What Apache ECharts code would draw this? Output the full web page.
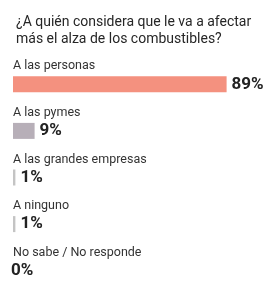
<!DOCTYPE html>
<html>
<head>
<meta charset="utf-8">
<script src="https://cdn.jsdelivr.net/npm/echarts@6/dist/echarts.min.js"></script>
<style>
  html, body { margin: 0; padding: 0; background: #fff; }
  #chart { width: 265px; height: 282px; }
</style>
</head>
<body>
<div id="chart"></div>
<script>
  var titleText = '¿A quién considera que le va a afectar\nmás el alza de los combustibles?';
  var categories = ['A las personas', 'A las pymes', 'A las grandes empresas', 'A ninguno', 'No sabe / No responde'];
  var values = [89, 9, 1, 1, 0];
  var barColors = ['#f4917f', '#b7afb8', '#c4c4c4', '#c4c4c4', '#c4c4c4'];

  var chart = echarts.init(document.getElementById('chart'));

  var barData = values.map(function(v, i) {
    var item = { value: v, itemStyle: { color: barColors[i] } };
    // empty bar: the label sits where the bar would start
    if (v === 0) {
      item.label = { offset: [-7, 0] };
    }
    return item;
  });

  var option = {
    animation: false,
    title: {
      text: titleText,
      left: 11,
      top: 9,
      textStyle: {
        fontFamily: 'Roboto',
        fontSize: 14,
        fontWeight: 'normal',
        lineHeight: 17,
        color: '#262626'
      }
    },
    grid: {
      left: 13,
      top: 61,
      width: 240,
      height: 233,
      outerBoundsMode: 'none'
    },
    xAxis: {
      type: 'value',
      min: 0,
      max: 100,
      show: false
    },
    yAxis: {
      type: 'category',
      inverse: true,
      data: categories,
      axisLine: { show: false },
      axisTick: { show: false },
      axisLabel: {
        margin: 0,
        align: 'left',
        verticalAlign: 'bottom',
        padding: [0, 0, 11, 0],
        fontFamily: 'Roboto',
        fontSize: 12.5,
        lineHeight: 14,
        color: '#333'
      }
    },
    series: [{
      type: 'bar',
      data: barData,
      barWidth: 16,
      label: {
        show: true,
        position: 'right',
        distance: 5,
        formatter: '{c}%',
        fontFamily: 'Roboto',
        fontSize: 17,
        fontWeight: 'bold',
        color: '#222'
      }
    }]
  };

  chart.setOption(option);
</script>
</body>
</html>
